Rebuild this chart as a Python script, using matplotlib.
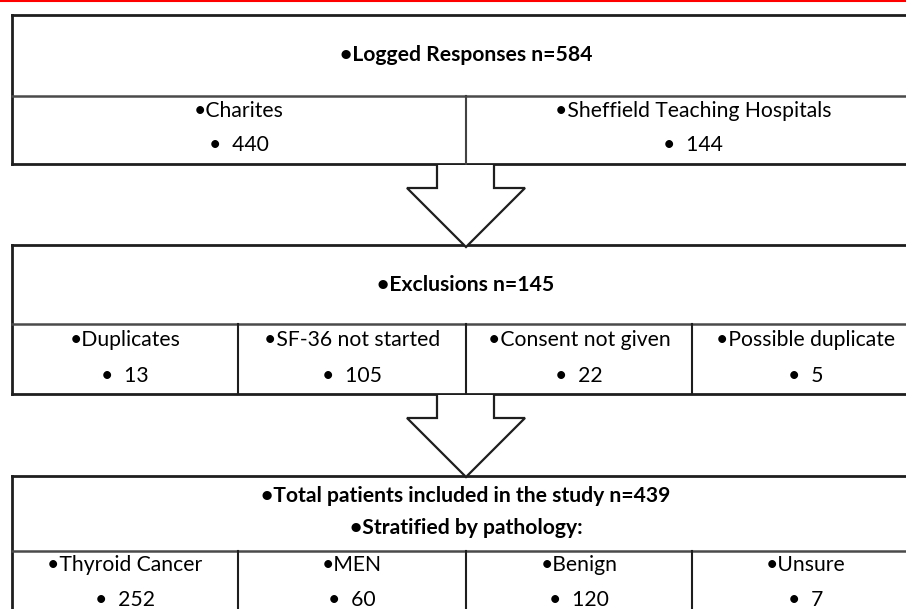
import matplotlib.pyplot as plt
from matplotlib.patches import Polygon

# flowchart content
top_title = "Logged Responses n=584"
top_labels = ["Charites", "Sheffield Teaching Hospitals"]
top_counts = [440, 144]

excl_title = "Exclusions n=145"
excl_labels = ["Duplicates", "SF-36 not started", "Consent not given", "Possible duplicate"]
excl_counts = [13, 105, 22, 5]

incl_titles = ["Total patients included in the study n=439", "Stratified by pathology:"]
incl_labels = ["Thyroid Cancer", "MEN", "Benign", "Unsure"]
incl_counts = [252, 60, 120, 7]

plt.rcParams['font.family'] = ['Lato', 'DejaVu Sans']
FS = 15.2

fig = plt.figure(figsize=(9.06, 6.09), dpi=100)
ax = fig.add_axes([0, 0, 1, 1])
ax.set_xlim(0, 906)
ax.set_ylim(609, 0)
ax.axis('off')

dark = '#1e1e1e'
grey = '#4a4a4a'
X0, X1 = 12, 920

# red rule at top
ax.plot([0, 906], [0.8, 0.8], color='#ff0000', lw=1.5)


def box(y0, ymid, y1, cols):
    ax.plot([X0, X1], [y0, y0], color=dark, lw=2)
    ax.plot([X0, X1], [y1, y1], color=dark, lw=2)
    ax.plot([X0, X0], [y0, y1], color=dark, lw=2)
    ax.plot([X0, X1], [ymid, ymid], color=grey, lw=1.8)
    for cx in cols[1:-1]:
        ax.plot([cx, cx], [ymid, y1], color=dark, lw=1.5)


def row(cols, labels, counts, y_lab, y_num):
    for i, (lab, n) in enumerate(zip(labels, counts)):
        cx = (cols[i] + cols[i + 1]) / 2
        ax.text(cx, y_lab, '\u2022' + lab, ha='center', va='center', fontsize=FS)
        ax.text(cx, y_num, '\u2022  ' + str(n), ha='center', va='center', fontsize=FS)


def arrow(y_top, y_neck, y_tip):
    pts = [(437, y_top), (437, y_neck), (407, y_neck), (466, y_tip),
           (525, y_neck), (494, y_neck), (494, y_top)]
    ax.add_patch(Polygon(pts, closed=False, facecolor='white', edgecolor=dark, lw=1.6, zorder=3))


# box 1
cols1 = [X0, 466, X1]
box(15, 96, 164, cols1)
ax.plot([466, 466], [96, 164], color=grey, lw=1.2)
ax.text(466, 55, '\u2022' + top_title, ha='center', va='center', fontsize=FS, fontweight='bold')
row(cols1, top_labels, top_counts, 111, 145)

arrow(165, 188, 247)

# box 2
cols2 = [X0, 238, 466, 692, X1]
box(245, 324, 394, cols2)
ax.text(466, 285, '\u2022' + excl_title, ha='center', va='center', fontsize=FS, fontweight='bold')
row(cols2, excl_labels, excl_counts, 340, 376)

arrow(395, 418, 477)

# box 3
cols3 = [X0, 238, 466, 692, X1]
ax.plot([X0, X1], [476, 476], color=dark, lw=2)
ax.plot([X0, X0], [476, 620], color=dark, lw=2)
ax.plot([X0, X1], [551, 551], color=grey, lw=1.8)
for cx in cols3[1:-1]:
    ax.plot([cx, cx], [551, 620], color=dark, lw=1.5)
ax.text(466, 496, '\u2022' + incl_titles[0], ha='center', va='center', fontsize=FS, fontweight='bold')
ax.text(466, 528, '\u2022' + incl_titles[1], ha='center', va='center', fontsize=FS, fontweight='bold')
row(cols3, incl_labels, incl_counts, 565, 600)

fig.savefig('out.png', dpi=100)
